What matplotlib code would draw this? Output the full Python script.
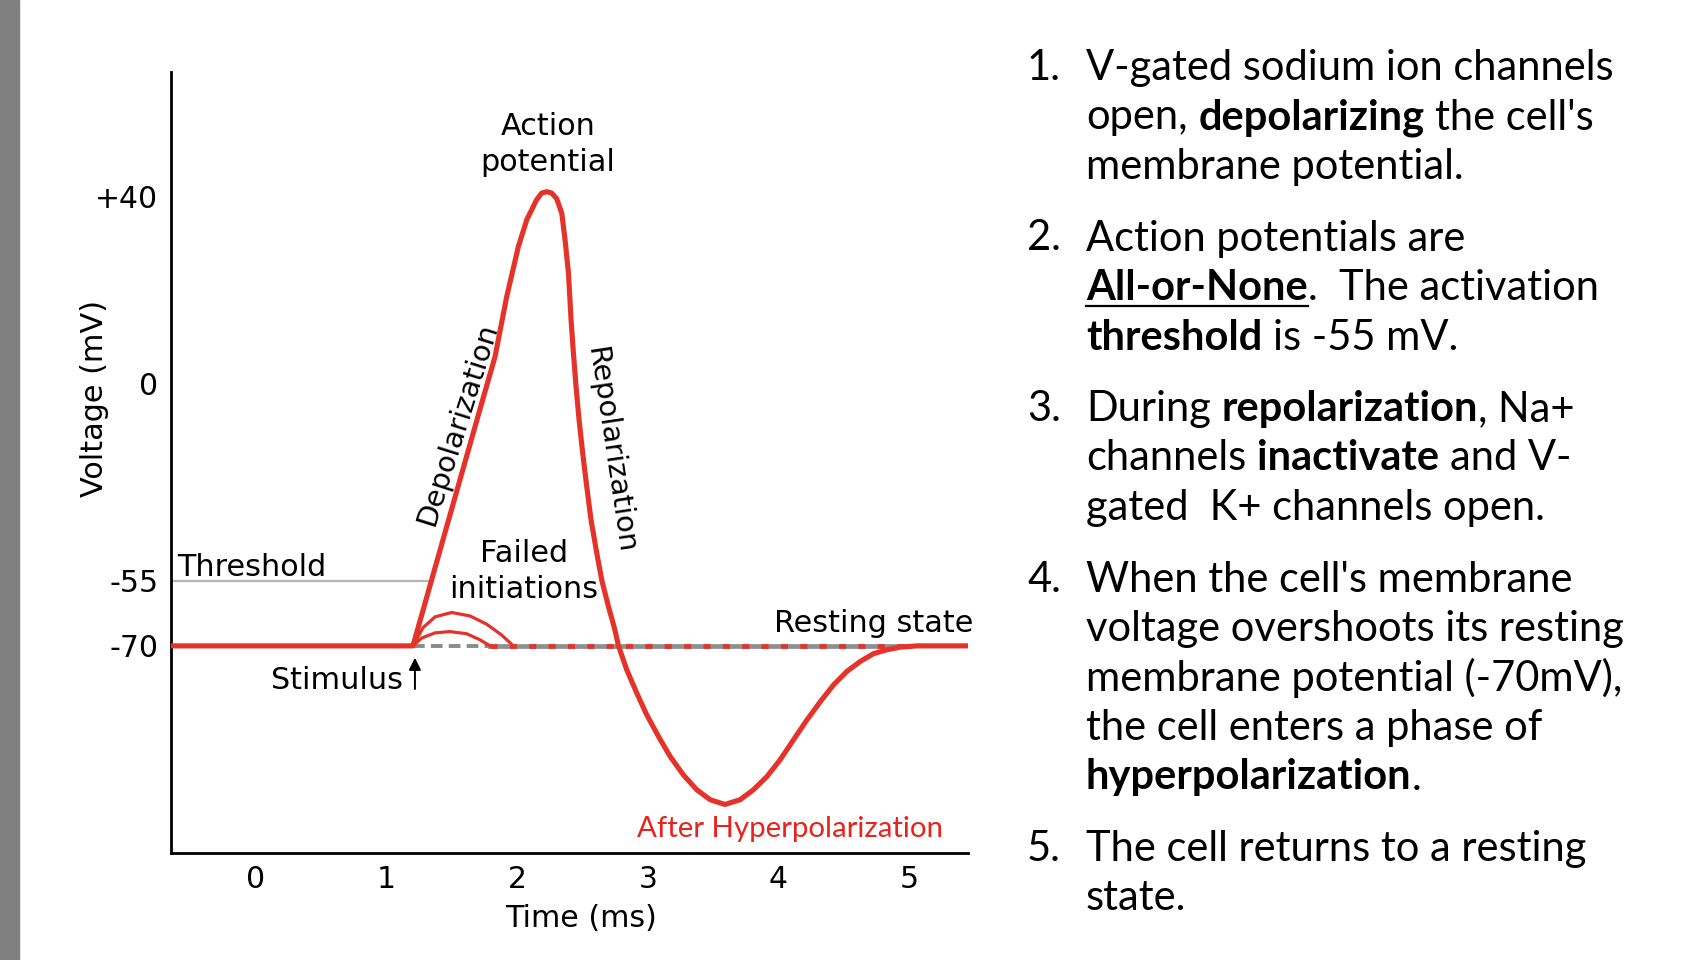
import numpy as np
import matplotlib.pyplot as plt
from matplotlib.lines import Line2D
from matplotlib.patches import Rectangle
from matplotlib.font_manager import FontProperties

# main action potential trace (time in ms, voltage in mV)
TIME_MS = [-0.65, 1.202, 1.345, 1.598, 1.728, 1.830, 1.919, 2.009, 2.073, 2.149,
           2.187, 2.226, 2.264, 2.302, 2.341, 2.366, 2.392, 2.412, 2.430, 2.450,
           2.473, 2.501, 2.532, 2.565, 2.609, 2.647, 2.698, 2.745, 2.775, 2.838,
           2.915, 2.991, 3.081, 3.170, 3.272, 3.374, 3.476, 3.590, 3.706, 3.808,
           3.910, 4.012, 4.114, 4.217, 4.319, 4.421, 4.523, 4.625, 4.727, 4.829,
           4.931, 5.059, 5.45]
VOLT_MV = [-70, -70, -54.7, -22.1, -5.4, 5.8, 18.6, 29.4, 35.1, 39.4,
           40.8, 41.1, 40.8, 39.6, 36.5, 30.8, 23.7, 13.7, 6.6, -0.7,
           -10.0, -19.3, -28.7, -38.0, -47.3, -54.8, -60.9, -66.0, -70.0, -75.5,
           -80.9, -85.9, -90.9, -95.5, -99.8, -103.2, -105.5, -106.6, -105.5, -103.2,
           -100.2, -96.3, -91.7, -87.1, -82.9, -79.0, -75.9, -73.6, -71.8, -70.9,
           -70.3, -70, -70]

# failed initiations
FAIL_HI_T = [1.202, 1.279, 1.371, 1.498, 1.639, 1.766, 1.881, 1.970]
FAIL_HI_V = [-70, -65.8, -63.3, -62.3, -63.1, -65.0, -67.5, -70]
FAIL_LO_T = [1.202, 1.268, 1.371, 1.485, 1.613, 1.715, 1.792]
FAIL_LO_V = [-70, -68.2, -67.0, -66.7, -67.2, -68.6, -70]

REST_V = -70
THRESH_V = -55
THRESH_T = [-0.65, 1.345]
REST_DASH_T = [1.202, 1.79]
REST_SOLID_T = [1.79, 5.0]
STIM_T = 1.217

X_TICKS = [0, 1, 2, 3, 4, 5]
Y_TICKS = [40, 0, -55, -70]
Y_TICK_LABELS = ['+40', '0', '-55', '-70']

# the drawing is not to scale on the voltage axis
SCALE_V = [-140, -70, -55, 0, 40, 100]
SCALE_U = [-303.3, 0, 65, 262, 449, 729.5]

NOTES = [
    [[("V-gated sodium ion channels", 'n')],
     [("open, ", 'n'), ("depolarizing", 'b'), (" the cell's", 'n')],
     [("membrane potential.", 'n')]],
    [[("Action potentials are", 'n')],
     [("All-or-None", 'u'), (".  The activation", 'n')],
     [("threshold", 'b'), (" is -55 mV.", 'n')]],
    [[("During ", 'n'), ("repolarization", 'b'), (", Na+", 'n')],
     [("channels ", 'n'), ("inactivate", 'b'), (" and V-", 'n')],
     [("gated  K+ channels open.", 'n')]],
    [[("When the cell's membrane", 'n')],
     [("voltage overshoots its resting", 'n')],
     [("membrane potential (-70mV),", 'n')],
     [("the cell enters a phase of", 'n')],
     [("hyperpolarization", 'b'), (".", 'n')]],
    [[("The cell returns to a resting", 'n')],
     [("state.", 'n')]],
]

RED = '#e5332a'
W, H = 1686, 960

fig = plt.figure(figsize=(W / 100, H / 100), dpi=100)
fig.patches.append(Rectangle((0, 0), 19 / W, 1, transform=fig.transFigure,
                             color='#808080', zorder=0))

ax = fig.add_axes([171 / W, 1 - 853 / H, (968 - 171) / W, (853 - 72) / H])


def fwd(v):
    return np.interp(v, SCALE_V, SCALE_U)


def inv(u):
    return np.interp(u, SCALE_U, SCALE_V)


ax.set_yscale('function', functions=(fwd, inv))
ax.set_xlim(-0.65, 5.45)
ax.set_ylim(-117.8, 66.7)

ax.plot(THRESH_T, [THRESH_V] * 2, color='#b5b5b5', lw=1.6, zorder=1)
ax.plot(REST_DASH_T, [REST_V] * 2, color='#8a8a8a', lw=2.8, dashes=(3, 1.6), zorder=1)
ax.plot(REST_SOLID_T, [REST_V] * 2, color='#8f8f8f', lw=3.4, zorder=1)
ax.plot(REST_SOLID_T, [REST_V] * 2, color=RED, lw=3.4, dashes=(1.5, 2.6), zorder=2)
ax.plot(FAIL_HI_T, FAIL_HI_V, color=RED, lw=2.3, zorder=3)
ax.plot(FAIL_LO_T, FAIL_LO_V, color=RED, lw=2.3, zorder=3)
ax.plot(TIME_MS, VOLT_MV, color=RED, lw=3.7, zorder=4,
        solid_joinstyle='round', solid_capstyle='butt')

ax.annotate('', xy=(STIM_T, -72.1), xytext=(STIM_T, -80.6),
            arrowprops=dict(arrowstyle='-|>', color='black', lw=1.4, mutation_scale=18))

ax.set_xticks(X_TICKS)
ax.set_yticks(Y_TICKS, labels=Y_TICK_LABELS)
ax.tick_params(length=0, labelsize=21.5, pad=9)
for s in ['top', 'right']:
    ax.spines[s].set_visible(False)
for s in ['left', 'bottom']:
    ax.spines[s].set_linewidth(2)

ax.set_xlabel('Time (ms)', fontsize=21.7, va='center')
ax.set_ylabel('Voltage (mV)', fontsize=21.8, va='center')
ax.xaxis.set_label_coords(0.514, -0.0845)
ax.yaxis.set_label_coords(-0.0954, 0.5826)

fs = 21.8
ax.text(2.236, 51.2, 'Action\npotential', ha='center', va='center', fontsize=fs, linespacing=1.3)
ax.text(-0.605, -53.6, 'Threshold', ha='left', va='baseline', fontsize=fs)
ax.text(2.052, -52.5, 'Failed\ninitiations', ha='center', va='center', fontsize=fs, linespacing=1.3)
ax.text(5.49, -64.9, 'Resting state', ha='right', va='center', fontsize=fs)
ax.text(1.126, -78.1, 'Stimulus', ha='right', va='center', fontsize=fs)
ax.text(1.545, -11.2, 'Depolarization', ha='center', va='center', fontsize=20.8,
        rotation=72.5, rotation_mode='anchor')
ax.text(2.711, -18.4, 'Repolarization', ha='center', va='center', fontsize=21,
        rotation=-81.5, rotation_mode='anchor')
ax.text(4.089, -112.2, 'After Hyperpolarization', ha='center', va='center',
        fontsize=21.2, color='#e8231d', family='Lato')

# numbered notes on the right, mixed weights laid out piece by piece
renderer = fig.canvas.get_renderer()
nsize = 30
props = {'n': FontProperties(family='Lato', size=nsize),
         'b': FontProperties(family='Lato', size=nsize, weight='bold'),
         'u': FontProperties(family='Lato', size=nsize, weight='bold')}


def adv(s, prop):
    w = renderer.get_text_width_height_descent('|' + s + '|', prop, ismath=False)[0]
    w0 = renderer.get_text_width_height_descent('||', prop, ismath=False)[0]
    return w - w0


num_x, text_x = 1027, 1086
line_h, item_gap = 49.5, 22
y = 80
for i, item in enumerate(NOTES):
    fig.text(num_x / W, 1 - y / H, f'{i + 1}.', fontproperties=props['n'], va='baseline')
    for line in item:
        x = text_x
        for seg, kind in line:
            prop = props[kind]
            lead = len(seg) - len(seg.lstrip(' '))
            x0 = x + adv(' ' * lead, prop)
            fig.text(x0 / W, 1 - y / H, seg.strip(' '), fontproperties=prop,
                     va='baseline', ha='left')
            x1 = x0 + adv(seg.strip(' '), prop)
            if kind == 'u':
                fig.add_artist(Line2D([x0 / W, x1 / W], [1 - (y + 6) / H] * 2,
                                      transform=fig.transFigure, color='black', lw=1.6))
            x += adv(seg, prop)
        y += line_h
    y += item_gap

fig.savefig('out.png', dpi=100)
